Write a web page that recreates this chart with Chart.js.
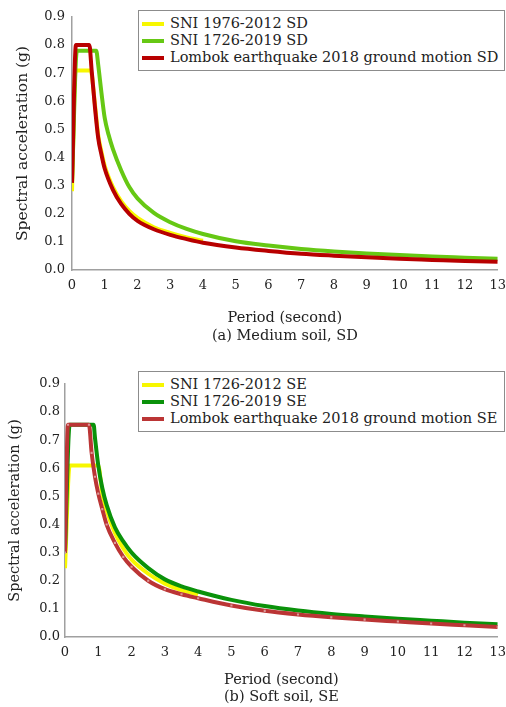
<!DOCTYPE html>
<html>
<head>
<meta charset="utf-8">
<script src="https://cdn.jsdelivr.net/npm/chart.js@4.4.1/dist/chart.umd.min.js"></script>
<style>
body { margin: 0; background: #fff; font-family: "DejaVu Serif", serif; }
.panel { position: absolute; left: 0; width: 506px; }
.legend { position: absolute; border: 1.5px solid #8c8c8c; background: #fff; font-size: 14.5px; color: #222; padding-top: 4px; box-sizing: border-box; }
.legend div { height: 17px; line-height: 17px; white-space: nowrap; }
.legend span { display: inline-block; width: 22px; height: 4px; margin: 0 6px 0 3px; vertical-align: middle; }
</style>
</head>
<body>
<div class="panel" style="top:0;height:345px">
  <canvas id="chartSD"></canvas>
  <div class="legend" id="legendSD" style="left:138px;top:10px;width:367px;height:61px"></div>
</div>
<div class="panel" style="top:350px;height:357px">
  <canvas id="chartSE"></canvas>
  <div class="legend" id="legendSE" style="left:138px;top:21px;width:367px;height:61px"></div>
</div>
<script>
// (a) Medium soil, SD
var namesSD = ['SNI 1976-2012 SD', 'SNI 1726-2019 SD', 'Lombok earthquake 2018 ground motion SD'];
var periodSD2012 = [0, 0.11, 0.57, 0.7, 0.8, 0.9, 1.0, 1.25, 1.5, 1.75, 2.0, 2.5, 3.0, 3.5, 4.0];
var accSD2012    = [0.28, 0.71, 0.71, 0.59, 0.48, 0.42, 0.37, 0.295, 0.245, 0.21, 0.185, 0.152, 0.132, 0.116, 0.104];
var periodSD2019 = [0, 0.15, 0.74, 0.8, 0.9, 1.0, 1.12, 1.25, 1.5, 1.75, 2, 2.5, 3, 3.5, 4, 5, 6, 7, 8, 9, 10, 11, 12, 13];
var accSD2019    = [0.31, 0.78, 0.78, 0.73, 0.63, 0.54, 0.48, 0.43, 0.355, 0.295, 0.255, 0.203, 0.17, 0.146, 0.128, 0.102, 0.087, 0.075, 0.066, 0.059, 0.053, 0.048, 0.044, 0.040];
var periodSDLombok = [0, 0.12, 0.53, 0.6, 0.7, 0.8, 0.9, 1.0, 1.25, 1.5, 1.75, 2, 2.5, 3, 3.5, 4, 5, 6, 7, 8, 9, 10, 11, 12, 13];
var accSDLombok    = [0.31, 0.80, 0.80, 0.71, 0.58, 0.47, 0.41, 0.36, 0.285, 0.235, 0.20, 0.175, 0.145, 0.125, 0.11, 0.097, 0.08, 0.068, 0.058, 0.051, 0.045, 0.04, 0.036, 0.032, 0.029];

// (b) Soft soil, SE
var namesSE = ['SNI 1726-2012 SE', 'SNI 1726-2019 SE', 'Lombok earthquake 2018 ground motion SE'];
var periodSE2012 = [0, 0.14, 1.0, 1.12, 1.25, 1.5, 1.75, 2, 2.5, 3, 3.5, 4];
var accSE2012    = [0.245, 0.61, 0.61, 0.51, 0.45, 0.37, 0.315, 0.275, 0.225, 0.19, 0.167, 0.152];
var periodSE2019 = [0, 0.14, 0.86, 0.9, 1.0, 1.12, 1.25, 1.5, 1.75, 2, 2.5, 3, 3.5, 4, 5, 6, 7, 8, 9, 10, 11, 12, 13];
var accSE2019    = [0.30, 0.755, 0.755, 0.71, 0.61, 0.53, 0.47, 0.39, 0.34, 0.30, 0.245, 0.205, 0.18, 0.162, 0.132, 0.11, 0.094, 0.082, 0.073, 0.065, 0.058, 0.051, 0.045];
var periodSELombok = [0, 0.09, 0.72, 0.8, 0.9, 1.0, 1.12, 1.25, 1.5, 1.75, 2, 2.5, 3, 3.5, 4, 5, 6, 7, 8, 9, 10, 11, 12, 13];
var accSELombok    = [0.30, 0.755, 0.755, 0.655, 0.57, 0.51, 0.455, 0.40, 0.335, 0.285, 0.25, 0.2, 0.17, 0.152, 0.138, 0.112, 0.093, 0.08, 0.07, 0.062, 0.055, 0.048, 0.042, 0.036];

var textColor = '#222';
var serif = 'DejaVu Serif';

function points(periods, acc) {
    return periods.map(function (t, i) { return { x: t, y: acc[i] }; });
}

function series(label, periods, acc, color, order, extra) {
    var ds = {
        label: label,
        data: points(periods, acc),
        borderColor: color,
        backgroundColor: color,
        borderWidth: 4,
        pointRadius: 0,
        fill: false,
        cubicInterpolationMode: 'monotone',
        order: order
    };
    return Object.assign(ds, extra || {});
}

function buildLegend(id, datasets) {
    var el = document.getElementById(id);
    datasets.forEach(function (ds) {
        var row = document.createElement('div');
        var swatch = document.createElement('span');
        swatch.style.background = ds.borderColor;
        row.appendChild(swatch);
        row.appendChild(document.createTextNode(ds.label));
        el.appendChild(row);
    });
}

function makeChart(canvasId, datasets, cfg) {
    return new Chart(document.getElementById(canvasId), {
        type: 'line',
        data: { datasets: datasets },
        options: {
            responsive: true,
            maintainAspectRatio: false,
            animation: false,
            layout: { padding: { top: cfg.padTop, right: cfg.padRight, left: 0, bottom: 0 } },
            plugins: { legend: { display: false }, tooltip: { enabled: false } },
            scales: {
                x: {
                    type: 'linear',
                    min: 0,
                    max: 13,
                    grid: { display: false, tickLength: 8 },
                    border: { color: '#a0a0a0', width: 1.5 },
                    ticks: { stepSize: 1, padding: 0, maxRotation: 0, autoSkip: false, color: textColor, font: { family: serif, size: 13 } },
                    title: {
                        display: true,
                        text: ['Period (second)', cfg.caption],
                        color: textColor,
                        font: { family: serif, size: 14.5, lineHeight: cfg.xLine },
                        padding: { top: 0, bottom: cfg.titleBottom }
                    },
                    afterFit: function (s) { s.height = cfg.xHeight; }
                },
                y: {
                    min: 0,
                    max: 0.9,
                    grid: { display: false, tickLength: cfg.yTick },
                    border: { color: '#a0a0a0', width: 1.5 },
                    ticks: {
                        stepSize: 0.1, padding: 0, color: textColor, font: { family: serif, size: 13 },
                        callback: function (v) { return v.toFixed(1); }
                    },
                    title: {
                        display: true,
                        text: 'Spectral acceleration (g)',
                        color: textColor,
                        font: { family: serif, size: cfg.yFont, lineHeight: 1.2 },
                        padding: { top: cfg.yTitlePad, bottom: 0 }
                    },
                    afterFit: function (s) { s.width = cfg.yWidth; }
                }
            }
        }
    });
}

var datasetsSD = [
    series(namesSD[0], periodSD2012, accSD2012, '#f7f700', 3),
    series(namesSD[1], periodSD2019, accSD2019, '#66c814', 2),
    series(namesSD[2], periodSDLombok, accSDLombok, '#b80000', 1)
];
var datasetsSE = [
    series(namesSE[0], periodSE2012, accSE2012, '#f7f700', 3),
    series(namesSE[1], periodSE2019, accSE2019, '#0a920a', 2),
    series(namesSE[2], periodSELombok, accSELombok, '#bb3535', 1,
        { pointRadius: 1.5, pointStyle: 'rect', pointBackgroundColor: '#dc9a9a', pointBorderWidth: 0 })
];

makeChart('chartSD', datasetsSD, {
    caption: '(a) Medium soil, SD', padTop: 17, padRight: 8, xHeight: 75, yWidth: 72,
    yTick: 7, yFont: 15.5, yTitlePad: 14, titleBottom: 0, xLine: 1.24
});
makeChart('chartSE', datasetsSE, {
    caption: '(b) Soft soil, SE', padTop: 34, padRight: 6, xHeight: 70, yWidth: 65,
    yTick: 5, yFont: 14.5, yTitlePad: 7, titleBottom: 1, xLine: 1.17
});
buildLegend('legendSD', datasetsSD);
buildLegend('legendSE', datasetsSE);
</script>
</body>
</html>
